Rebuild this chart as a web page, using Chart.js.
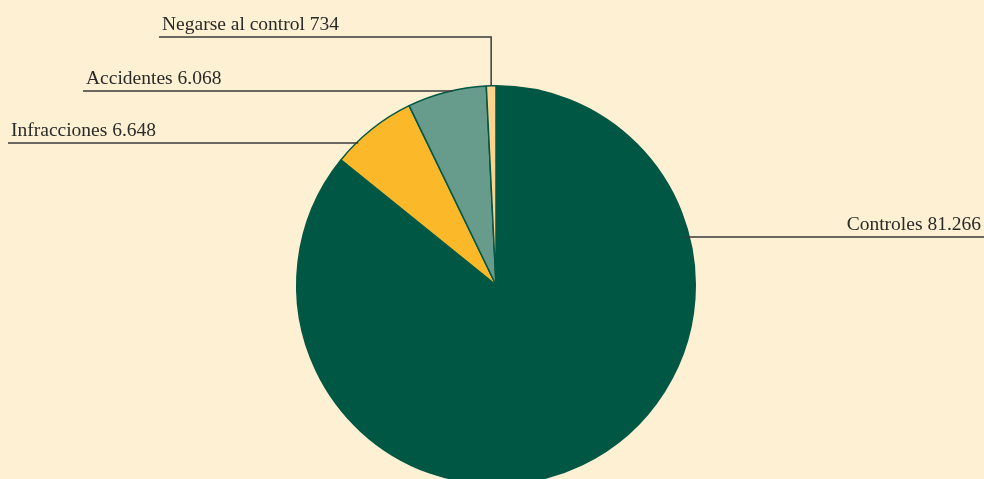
<!DOCTYPE html>
<html>
<head>
<meta charset="utf-8">
<script src="https://cdn.jsdelivr.net/npm/chart.js@4"></script>
<style>
  html, body { margin: 0; padding: 0; background: #fdf0d3; overflow: hidden; }
  #wrap { width: 984px; height: 500px; }
</style>
</head>
<body>
<div id="wrap"><canvas id="myChart" width="984" height="500"></canvas></div>
<script>
// Data
const categories = ['Controles', 'Infracciones', 'Accidentes', 'Negarse al control'];
const values = [81266, 6648, 6068, 734];
const valueLabels = ['81.266', '6.648', '6.068', '734'];
const colors = ['#005743', '#fbb829', '#679b8c', '#fcd38c'];

// label placement: line y, line start x, side
const labelLayout = [
    { y: 237, x: 984, side: 'right' },
    { y: 143, x: 8, side: 'left' },
    { y: 91, x: 83, side: 'left' },
    { y: 37, x: 159, side: 'left', vertical: true }
];

const leaderLabels = {
    id: 'leaderLabels',
    afterDatasetsDraw(chart) {
        const ctx = chart.ctx;
        const meta = chart.getDatasetMeta(0);
        ctx.save();
        ctx.strokeStyle = '#3a3a3a';
        ctx.lineWidth = 1.5;
        ctx.fillStyle = '#2a2a2a';
        ctx.font = '19.5px "Liberation Serif", "Times New Roman", serif';
        ctx.textBaseline = 'alphabetic';
        meta.data.forEach((arc, i) => {
            const lay = labelLayout[i];
            const cx = arc.x, cy = arc.y, r = arc.outerRadius;
            const text = categories[i] + ' ' + valueLabels[i];
            ctx.beginPath();
            if (lay.vertical) {
                const mid = (arc.startAngle + arc.endAngle) / 2;
                const px = cx + Math.cos(mid) * r;
                const py = cy + Math.sin(mid) * r;
                ctx.moveTo(lay.x, lay.y);
                ctx.lineTo(px, lay.y);
                ctx.lineTo(px, py);
            } else {
                const dy = lay.y - cy;
                const dx = Math.sqrt(Math.max(r * r - dy * dy, 0));
                const px = lay.side === 'right' ? cx + dx - 4 : cx - dx + 2;
                ctx.moveTo(lay.x, lay.y);
                ctx.lineTo(px, lay.y);
            }
            ctx.stroke();
            if (lay.side === 'right') {
                ctx.textAlign = 'right';
                ctx.fillText(text, lay.x - 3, lay.y - 7);
            } else {
                ctx.textAlign = 'left';
                ctx.fillText(text, lay.x + 3, lay.y - 7);
            }
        });
        ctx.restore();
    }
};

const ctx = document.getElementById('myChart').getContext('2d');
const myChart = new Chart(ctx, {
    type: 'pie',
    data: {
        labels: categories,
        datasets: [{
            data: values,
            backgroundColor: colors,
            borderColor: '#005743',
            borderWidth: 1.5
        }]
    },
    options: {
        responsive: false,
        animation: false,
        layout: {
            padding: { top: 85, bottom: 15, left: 296, right: 288 }
        },
        plugins: {
            legend: { display: false },
            tooltip: { enabled: false }
        }
    },
    plugins: [leaderLabels]
});
</script>
</body>
</html>
